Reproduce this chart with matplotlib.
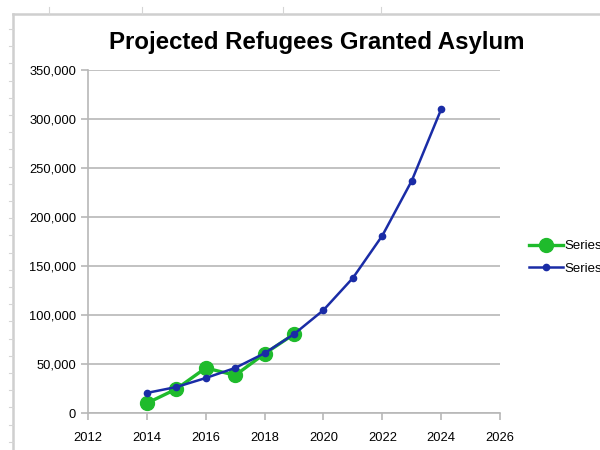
import matplotlib
matplotlib.use('Agg')

from matplotlib import pyplot as plt
from matplotlib.lines import Line2D
from matplotlib.ticker import FuncFormatter
import numpy as np

# data
years_actual = [2014, 2015, 2016, 2017, 2018, 2019]
refugees_actual = [10000, 24500, 46000, 38500, 60500, 80500]

years_proj = [2014, 2015, 2016, 2017, 2018, 2019, 2020, 2021, 2022, 2023, 2024]
refugees_proj = [20500, 26500, 35700, 46000, 61000, 80500, 105000, 137800, 181000, 237000, 310000]

x_ticks = list(range(2012, 2027, 2))
y_ticks = list(range(0, 350001, 50000))

GREEN = '#1fbb2c'
BLUE = '#1a2ca6'
GRID = '#b8b8b8'

plt.rcParams['font.family'] = ['Liberation Sans', 'DejaVu Sans']

fig = plt.figure(figsize=(6, 4.5), dpi=100)
ax = fig.add_axes([0.1467, 0.0822, 0.6867, 0.7622])

ax.plot(years_actual, refugees_actual, color=GREEN, lw=2.4, marker='o',
        ms=10, label='Series1', zorder=3)
ax.plot(years_proj, refugees_proj, color=BLUE, lw=1.8, marker='o',
        ms=4.5, label='Series2', zorder=4)

ax.set_xlim(2012, 2026)
ax.set_ylim(0, 350000)
ax.set_xticks(x_ticks)
ax.set_yticks(y_ticks)
ax.yaxis.set_major_formatter(FuncFormatter(lambda v, p: f'{int(v):,}'))
ax.grid(axis='y', color=GRID, lw=1.2)
ax.set_axisbelow(True)

for s in ['top', 'right']:
    ax.spines[s].set_visible(False)
for s in ['left', 'bottom']:
    ax.spines[s].set_color(GRID)
    ax.spines[s].set_linewidth(1.2)
ax.tick_params(axis='both', colors=GRID, width=1.2, length=5, labelsize=9.3)
ax.tick_params(axis='x', pad=9)
for lbl in ax.get_xticklabels() + ax.get_yticklabels():
    lbl.set_color('black')

fig.text(0.528, 0.906, 'Projected Refugees Granted Asylum', ha='center',
         va='center', fontsize=17.3, fontweight='bold')

fig.legend(loc='center left', bbox_to_anchor=(0.862, 0.428), frameon=False,
           fontsize=9.5, handlelength=2.6, handletextpad=0.1, labelspacing=0.75)

# spreadsheet frame around the chart
fig.add_artist(Line2D([13 / 600, 13 / 600], [0, 1 - 14 / 450], color='#cfcfcf', lw=1.8))
fig.add_artist(Line2D([13 / 600, 1], [1 - 14 / 450, 1 - 14 / 450], color='#cfcfcf', lw=1.8))
for yy in np.arange(29, 450, 17.2):
    fig.add_artist(Line2D([9 / 600, 13 / 600], [1 - yy / 450] * 2, color='#d5d5d5', lw=0.8))
for xx in [49, 142, 283, 381]:
    fig.add_artist(Line2D([xx / 600] * 2, [1 - 14 / 450, 1 - 7 / 450], color='#d5d5d5', lw=0.8))

fig.savefig('out.png', dpi=100)
